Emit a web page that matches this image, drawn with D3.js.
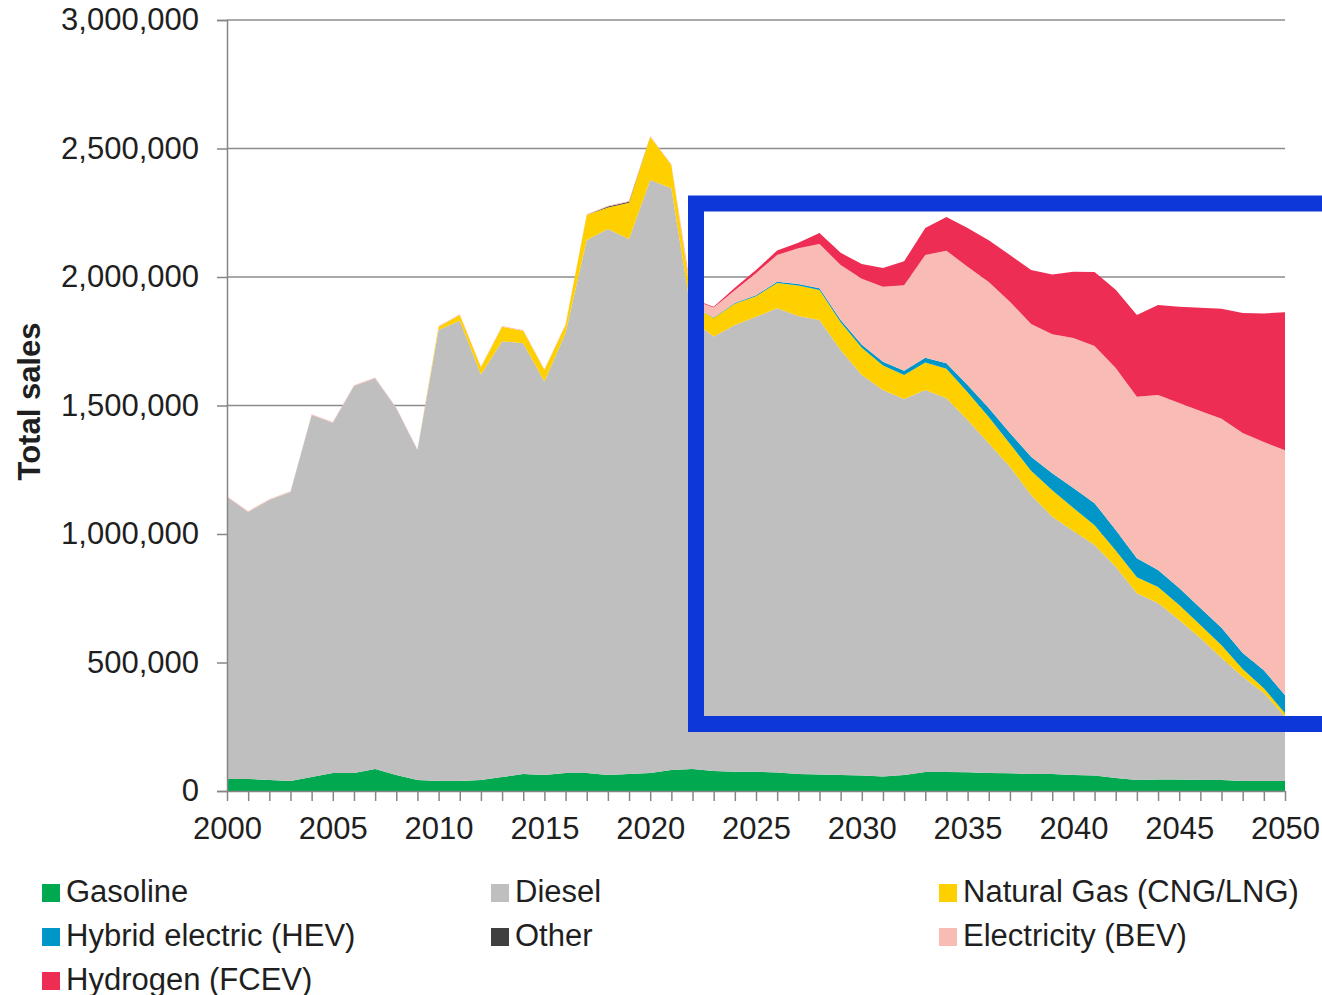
<!DOCTYPE html>
<html>
<head>
<meta charset="utf-8">
<script src="https://cdn.jsdelivr.net/npm/d3@7"></script>
<style>
  body { margin: 0; background: #fff; }
  text { font-family: "Liberation Sans", Arial, sans-serif; fill: #1f1f1f; }
</style>
</head>
<body>
<div id="chart"></div>
<script>
// vehicle sales by fuel type, 2000-2050
var years = d3.range(2000, 2051);

var gasoline = [47000, 47000, 43000, 39000, 54000, 70000, 70000, 86000, 62000, 43000,
  39000, 39000, 43000, 54000, 66000, 62000, 70000, 70000, 62000, 66000,
  70000, 82000, 86000, 78000, 75000, 75000, 72000, 66000, 64000, 62000,
  60000, 56000, 62000, 74000, 74000, 73000, 70000, 69000, 66000, 66000,
  62000, 60000, 51000, 43000, 45000, 45000, 43000, 43000, 39000, 39000, 39000];

var diesel = [1097000, 1039000, 1089000, 1124000, 1409000, 1363000, 1506000, 1520000, 1427000, 1284000,
  1755000, 1791000, 1578000, 1696000, 1676000, 1531000, 1712000, 2074000, 2125000, 2082000,
  2307000, 2263000, 1745000, 1690000, 1738000, 1770000, 1806000, 1782000, 1769000, 1654000,
  1559000, 1504000, 1463000, 1486000, 1454000, 1371000, 1283000, 1193000, 1086000, 1001000,
  950000, 897000, 822000, 726000, 687000, 620000, 552000, 475000, 406000, 342000, 250000];

var naturalGas = [0, 0, 0, 0, 0, 0, 0, 0, 0, 0,
  12000, 22000, 28000, 56000, 49000, 45000, 31000, 97000, 83000, 141000,
  169000, 91000, 55000, 72000, 83000, 80000, 99000, 119000, 116000, 108000,
  106000, 96000, 94000, 107000, 115000, 108000, 102000, 89000, 94000, 103000,
  89000, 77000, 63000, 63000, 62000, 59000, 51000, 49000, 30000, 19000, 14000];

var hybrid = [0, 0, 0, 0, 0, 0, 0, 0, 0, 0,
  0, 0, 0, 0, 0, 0, 0, 0, 0, 0,
  0, 0, 0, 2000, 3000, 4000, 5000, 6000, 7000, 9000,
  11000, 14000, 16000, 19000, 21000, 28000, 35000, 42000, 55000, 66000,
  78000, 86000, 80000, 74000, 66000, 66000, 66000, 68000, 62000, 70000, 70000];

var other = [0, 0, 0, 0, 0, 0, 0, 0, 0, 0,
  0, 0, 0, 0, 0, 0, 0, 0, 4000, 4000,
  0, 0, 0, 0, 0, 0, 0, 0, 0, 0,
  0, 0, 0, 0, 0, 0, 0, 0, 0, 0,
  0, 0, 0, 0, 0, 0, 0, 0, 0, 0, 0];

var electricity = [3000, 3000, 3000, 3000, 3000, 3000, 3000, 3000, 3000, 3000,
  3000, 3000, 3000, 3000, 3000, 3000, 3000, 3000, 3000, 3000,
  3000, 3000, 25000, 39000, 49000, 86000, 104000, 139000, 172000, 214000,
  257000, 292000, 333000, 400000, 438000, 460000, 491000, 511000, 516000, 541000,
  584000, 612000, 630000, 628000, 681000, 720000, 767000, 813000, 856000, 888000, 953000];

var hydrogen = [0, 0, 0, 0, 0, 0, 0, 0, 0, 0,
  0, 0, 0, 0, 0, 0, 0, 0, 0, 0,
  0, 0, 3000, 3000, 10000, 12000, 17000, 21000, 43000, 47000,
  58000, 73000, 93000, 105000, 131000, 151000, 162000, 182000, 210000, 233000,
  257000, 287000, 304000, 318000, 350000, 374000, 401000, 428000, 467000, 500000, 537000];

var seriesNames = ["Gasoline", "Diesel", "Natural Gas (CNG/LNG)", "Hybrid electric (HEV)",
  "Other", "Electricity (BEV)", "Hydrogen (FCEV)"];
var seriesValues = [gasoline, diesel, naturalGas, hybrid, other, electricity, hydrogen];
var seriesColors = ["#00a84f", "#bfbfbf", "#ffd000", "#0096c8", "#404040", "#f8bcb4", "#ed2d53"];

var yTicks = [0, 500000, 1000000, 1500000, 2000000, 2500000, 3000000];
var xLabels = [2000, 2005, 2010, 2015, 2020, 2025, 2030, 2035, 2040, 2045, 2050];

var svgWidth = 1322;
var svgHeight = 995;
var margin = { top: 20, left: 227 };
var width = 1058;
var height = 771;

var svg = d3.select("#chart")
    .append("svg")
    .attr("width", svgWidth)
    .attr("height", svgHeight);

var chartGroup = svg.append("g")
    .attr("transform", `translate(${margin.left}, ${margin.top})`);

var table = years.map(function(yr, i) {
    var row = { year: yr };
    seriesNames.forEach(function(name, k) { row[name] = seriesValues[k][i]; });
    return row;
});

var stacked = d3.stack().keys(seriesNames)(table);

var xScale = d3.scaleLinear().domain([2000, 2050]).range([0, width]);
var yScale = d3.scaleLinear().domain([0, 3000000]).range([height, 0]);

// gridlines behind the areas
chartGroup.append("g")
    .selectAll("line")
    .data(yTicks.filter(d => d > 0))
    .enter()
    .append("line")
    .attr("x1", 0)
    .attr("x2", width)
    .attr("y1", d => yScale(d))
    .attr("y2", d => yScale(d))
    .attr("stroke", "#8c8c8c")
    .attr("stroke-width", 1.5);

var area = d3.area()
    .x(d => xScale(d.data.year))
    .y0(d => yScale(d[0]))
    .y1(d => yScale(d[1]));

chartGroup.selectAll(".layer")
    .data(stacked)
    .enter()
    .append("path")
    .attr("class", "layer")
    .attr("d", area)
    .attr("fill", (d, i) => seriesColors[i]);

// axes
var leftAxis = d3.axisLeft(yScale)
    .tickValues(yTicks)
    .tickSize(10)
    .tickPadding(18)
    .tickFormat(d3.format(","));

var yAxisG = chartGroup.append("g").call(leftAxis);
yAxisG.select(".domain").attr("stroke", "#868686").attr("stroke-width", 1.5);
yAxisG.selectAll(".tick line").attr("stroke", "#868686").attr("stroke-width", 1.5);
yAxisG.selectAll(".tick text")
    .style("font-size", "31px")
    .style("font-family", "Liberation Sans, Arial, sans-serif")
    .attr("fill", "#262626");

var bottomAxis = d3.axisBottom(xScale)
    .tickValues(years)
    .tickSize(10)
    .tickSizeOuter(0)
    .tickPadding(16)
    .tickFormat(d => xLabels.indexOf(d) >= 0 ? d : "");

var xAxisG = chartGroup.append("g")
    .attr("transform", `translate(0, ${height})`)
    .call(bottomAxis);
xAxisG.select(".domain").attr("stroke", "#868686").attr("stroke-width", 1.5);
xAxisG.selectAll(".tick line").attr("stroke", "#868686").attr("stroke-width", 1.5);
xAxisG.selectAll(".tick text")
    .style("font-size", "31px")
    .style("font-family", "Liberation Sans, Arial, sans-serif")
    .attr("fill", "#1f1f1f");

chartGroup.append("text")
    .attr("transform", "rotate(-90)")
    .attr("x", -(height / 2) + 4)
    .attr("y", -margin.left + 40)
    .attr("text-anchor", "middle")
    .style("font-size", "31px")
    .style("font-weight", "bold")
    .text("Total sales");

// blue highlight box
svg.append("rect")
    .attr("x", 696)
    .attr("y", 203.5)
    .attr("width", 700)
    .attr("height", 520.5)
    .attr("fill", "none")
    .attr("stroke", "#0e37d9")
    .attr("stroke-width", 16);

// legend, three columns
var legendCols = [42, 491, 939];
var legend = svg.append("g")
    .selectAll("g")
    .data(seriesNames)
    .enter()
    .append("g")
    .attr("transform", (d, i) => `translate(${legendCols[i % 3]}, ${902 + Math.floor(i / 3) * 44})`);

legend.append("rect")
    .attr("x", 0)
    .attr("y", -18)
    .attr("width", 18)
    .attr("height", 18)
    .attr("fill", (d, i) => seriesColors[i]);

legend.append("text")
    .attr("x", 24)
    .attr("y", 0)
    .style("font-size", "31px")
    .text(d => d);
</script>
</body>
</html>
